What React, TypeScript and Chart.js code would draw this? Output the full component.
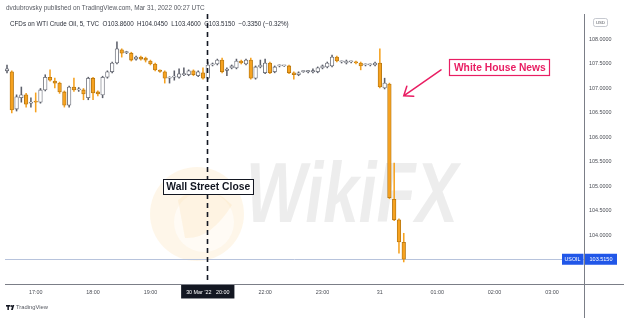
import React, { useEffect, useRef } from 'react';
import { Chart, registerables } from 'chart.js';

Chart.register(...registerables);

// 5-minute candles of WTI crude (index 0 = 30 Mar 16:30 UTC, index 54 = 22:00 after the break)
const opens = [
  107.36, 107.34, 106.58, 106.81, 106.87, 106.70, 106.74, 106.72, 106.97, 107.23,
  107.15, 107.11, 106.93, 106.66, 107.03, 106.97, 106.97, 106.81, 107.21, 106.93,
  106.87, 107.23, 107.34, 107.52, 107.79, 107.73, 107.72, 107.60, 107.64, 107.62,
  107.56, 107.50, 107.36, 107.34, 107.21, 107.23, 107.23, 107.28, 107.28, 107.36,
  107.26, 107.32, 107.21, 107.48, 107.50, 107.58, 107.37, 107.42, 107.42, 107.56,
  107.50, 107.58, 107.21, 107.44, 107.32, 107.52, 107.34, 107.46, 107.46, 107.46,
  107.32, 107.28, 107.34, 107.34, 107.34, 107.34, 107.42, 107.44, 107.46, 107.64,
  107.54, 107.52, 107.54, 107.54, 107.52, 107.48, 107.48, 107.48, 107.52, 107.01,
  107.09, 104.74, 104.32, 103.86,
];
const highs = [
  107.48, 107.36, 106.87, 107.03, 106.90, 106.81, 106.91, 107.00, 107.28, 107.38,
  107.21, 107.13, 106.95, 107.05, 107.21, 107.02, 107.00, 107.23, 107.23, 106.95,
  107.25, 107.36, 107.54, 107.95, 107.81, 107.76, 107.74, 107.66, 107.66, 107.64,
  107.58, 107.52, 107.38, 107.36, 107.24, 107.36, 107.40, 107.42, 107.38, 107.38,
  107.36, 107.42, 107.54, 107.52, 107.60, 107.62, 107.42, 107.48, 107.60, 107.58,
  107.60, 107.62, 107.46, 107.58, 107.60, 107.54, 107.46, 107.48, 107.47, 107.48,
  107.34, 107.34, 107.35, 107.36, 107.40, 107.44, 107.48, 107.54, 107.68, 107.66,
  107.56, 107.58, 107.56, 107.56, 107.54, 107.50, 107.50, 107.54, 107.81, 107.21,
  107.11, 105.48, 104.34, 104.045,
];
const lows = [
  107.32, 106.50, 106.54, 106.72, 106.62, 106.62, 106.52, 106.70, 106.95, 107.15,
  107.01, 106.90, 106.62, 106.62, 106.94, 106.94, 106.77, 106.77, 106.77, 106.85,
  106.81, 107.21, 107.32, 107.50, 107.64, 107.71, 107.56, 107.58, 107.58, 107.54,
  107.48, 107.36, 107.33, 107.11, 107.11, 107.17, 107.21, 107.26, 107.26, 107.26,
  107.24, 107.19, 107.19, 107.46, 107.48, 107.32, 107.26, 107.40, 107.40, 107.50,
  107.48, 107.19, 107.19, 107.42, 107.30, 107.30, 107.32, 107.44, 107.45, 107.30,
  107.19, 107.26, 107.33, 107.32, 107.32, 107.32, 107.40, 107.42, 107.44, 107.54,
  107.52, 107.50, 107.52, 107.50, 107.38, 107.46, 107.46, 107.46, 107.01, 106.99,
  104.75, 104.30, 103.64, 103.46,
];
const closes = [
  107.40, 106.56, 106.83, 106.87, 106.68, 106.72, 106.72, 106.97, 107.23, 107.17,
  107.11, 106.93, 106.66, 107.03, 106.97, 106.99, 106.89, 107.21, 106.91, 106.89,
  107.23, 107.34, 107.52, 107.81, 107.72, 107.74, 107.58, 107.64, 107.60, 107.58,
  107.50, 107.38, 107.35, 107.21, 107.22, 107.23, 107.30, 107.30, 107.36, 107.28,
  107.34, 107.21, 107.48, 107.50, 107.58, 107.34, 107.39, 107.46, 107.56, 107.52,
  107.58, 107.21, 107.44, 107.48, 107.52, 107.32, 107.44, 107.46, 107.46, 107.32,
  107.28, 107.32, 107.34, 107.34, 107.34, 107.42, 107.46, 107.52, 107.64, 107.56,
  107.54, 107.56, 107.54, 107.52, 107.46, 107.48, 107.48, 107.52, 107.03, 107.11,
  104.77, 104.32, 103.87, 103.515,
];

const timeTickIndex = [6, 18, 30, 42, 54, 66, 78, 90, 102, 114];
const timeTickLabels = ['17:00', '18:00', '19:00', "30 Mar '22   20:00", '22:00', '23:00', '31', '01:00', '02:00', '03:00'];
const priceTicks = [104.0, 104.5, 105.0, 105.5, 106.0, 106.5, 107.0, 107.5, 108.0];

const headerLine1 = 'dvdubrovsky published on TradingView.com, Mar 31, 2022 00:27 UTC';
const headerLine2 = 'CFDs on WTI Crude Oil, 5, TVC  O103.8600  H104.0450  L103.4600  C103.5150  \u22120.3350 (\u22120.32%)';
const symbolName = 'USOIL';
const wallStreet = { text: 'Wall Street Close', index: 42, price: 105.0 };
const news = { text: 'White House News', index: 103, price: 107.44 };
const arrow = { fromIndex: 90.8, fromPrice: 107.38, toIndex: 83, toPrice: 106.85 };

const X_MIN = -0.42;
const X_MAX = 120.71;
const Y_MIN = 103.01;
const Y_MAX = 108.52;

const DOWN_FILL = '#f6a220';
const DOWN_BORDER = '#b0720f';
const UP_FILL = '#ffffff';
const UP_BORDER = '#5d606b';
const AXIS = '#7b7e87';
const TEXT = '#4a4d55';
const FAMILY = '"Liberation Sans", Arial, sans-serif';
const PINK = '#e91e63';

function fitText(ctx: CanvasRenderingContext2D, text: string, x: number, y: number, width: number, weight: string, align: CanvasTextAlign = 'left') {
  ctx.font = `${weight} 20px ${FAMILY}`;
  const w = ctx.measureText(text).width;
  const size = (20 * width) / w;
  ctx.font = `${weight} ${size}px ${FAMILY}`;
  ctx.textAlign = align;
  ctx.textBaseline = 'middle';
  ctx.fillText(text, x, y);
}

const overlay = {
  id: 'overlay',
  beforeDraw(chart: any) {
    const ctx = chart.ctx as CanvasRenderingContext2D;
    ctx.save();
    ctx.fillStyle = '#ffffff';
    ctx.fillRect(0, 0, chart.width, chart.height);
    ctx.restore();
  },
  beforeDatasetsDraw(chart: any) {
    const ctx = chart.ctx as CanvasRenderingContext2D;
    const { chartArea } = chart;
    const y = chart.scales.y;
    ctx.save();
    // watermark logo
    ctx.fillStyle = 'rgba(246, 200, 120, 0.16)';
    ctx.beginPath();
    ctx.arc(197, 214, 47, 0, Math.PI * 2);
    ctx.fill();
    ctx.fillStyle = 'rgba(255, 255, 255, 0.55)';
    ctx.beginPath();
    ctx.arc(204, 222, 30, 0, Math.PI * 2);
    ctx.fill();
    ctx.fillStyle = 'rgba(246, 196, 110, 0.14)';
    ctx.beginPath();
    ctx.moveTo(178, 200);
    ctx.quadraticCurveTo(205, 178, 232, 205);
    ctx.quadraticCurveTo(210, 240, 185, 238);
    ctx.closePath();
    ctx.fill();
    // watermark text
    ctx.font = `bold italic 60px ${FAMILY}`;
    const w = ctx.measureText('WikiFX').width;
    ctx.translate(246, 222);
    ctx.scale(212 / w, 1.42);
    ctx.fillStyle = 'rgba(214, 214, 214, 0.45)';
    ctx.textAlign = 'left';
    ctx.textBaseline = 'alphabetic';
    ctx.fillText('WikiFX', 0, 0);
    ctx.restore();

    // last price line
    const py = Math.round(y.getPixelForValue(closes[closes.length - 1])) + 0.5;
    ctx.save();
    ctx.strokeStyle = '#b7c3dc';
    ctx.lineWidth = 1;
    ctx.beginPath();
    ctx.moveTo(chartArea.left, py);
    ctx.lineTo(chartArea.right, py);
    ctx.stroke();
    ctx.restore();
  },
  afterDraw(chart: any) {
    const ctx = chart.ctx as CanvasRenderingContext2D;
    const { chartArea } = chart;
    const xs = chart.scales.x;
    const ys = chart.scales.y;
    ctx.save();

    // axis line extensions
    ctx.strokeStyle = AXIS;
    ctx.lineWidth = 1;
    ctx.beginPath();
    ctx.moveTo(chartArea.right, chartArea.bottom + 0.5);
    ctx.lineTo(chart.width, chartArea.bottom + 0.5);
    ctx.moveTo(chartArea.right + 0.5, chartArea.bottom);
    ctx.lineTo(chartArea.right + 0.5, chart.height);
    ctx.stroke();

    // headers
    ctx.fillStyle = '#555860';
    fitText(ctx, headerLine1, 6, 8, 199, 'normal');
    ctx.fillStyle = '#2a2e39';
    fitText(ctx, headerLine2, 10, 24, 279, 'normal');

    // USD box
    ctx.strokeStyle = '#b8bbc4';
    ctx.lineWidth = 0.8;
    ctx.beginPath();
    ctx.roundRect(593.5, 18.5, 14, 8, 2);
    ctx.stroke();
    ctx.fillStyle = TEXT;
    fitText(ctx, 'USD', 600.5, 22.5, 9, 'normal', 'center');

    // Wall Street close dashed line
    const wx = Math.round(xs.getPixelForValue(wallStreet.index)) - 0.5;
    ctx.strokeStyle = '#131722';
    ctx.lineWidth = 1.6;
    ctx.setLineDash([5, 4]);
    ctx.beginPath();
    ctx.moveTo(wx, chartArea.top);
    ctx.lineTo(wx, chartArea.bottom);
    ctx.stroke();
    ctx.setLineDash([]);

    // Wall Street Close label
    const wcx = xs.getPixelForValue(wallStreet.index);
    const wcy = ys.getPixelForValue(wallStreet.price);
    ctx.fillStyle = '#ffffff';
    ctx.fillRect(wcx - 45, wcy - 7.5, 90, 15);
    ctx.strokeStyle = '#131722';
    ctx.lineWidth = 1;
    ctx.strokeRect(Math.round(wcx - 45) + 0.5, Math.round(wcy - 7.5) + 0.5, 90, 15);
    ctx.fillStyle = '#131722';
    fitText(ctx, wallStreet.text, wcx + 0.5, wcy + 1, 84, '600', 'center');

    // White House News label
    const ncx = xs.getPixelForValue(news.index);
    const ncy = ys.getPixelForValue(news.price);
    ctx.fillStyle = '#ffffff';
    ctx.fillRect(ncx - 50, ncy - 8, 100, 16);
    ctx.strokeStyle = PINK;
    ctx.lineWidth = 1.2;
    ctx.strokeRect(Math.round(ncx - 50) + 0.5, Math.round(ncy - 8) + 0.5, 100, 16);
    ctx.fillStyle = PINK;
    fitText(ctx, news.text, ncx + 0.5, ncy + 1, 92, '600', 'center');

    // arrow
    const ax0 = xs.getPixelForValue(arrow.fromIndex);
    const ay0 = ys.getPixelForValue(arrow.fromPrice);
    const ax1 = xs.getPixelForValue(arrow.toIndex);
    const ay1 = ys.getPixelForValue(arrow.toPrice);
    const ang = Math.atan2(ay1 - ay0, ax1 - ax0);
    ctx.strokeStyle = PINK;
    ctx.lineWidth = 1.5;
    ctx.lineCap = 'round';
    ctx.beginPath();
    ctx.moveTo(ax0, ay0);
    ctx.lineTo(ax1, ay1);
    const L = 10;
    ctx.moveTo(ax1 - L * Math.cos(ang - 0.65), ay1 - L * Math.sin(ang - 0.65));
    ctx.lineTo(ax1, ay1);
    ctx.lineTo(ax1 - L * Math.cos(ang + 0.65), ay1 - L * Math.sin(ang + 0.65));
    ctx.stroke();

    // symbol / last price labels
    const ly = ys.getPixelForValue(closes[closes.length - 1]);
    ctx.fillStyle = '#2157e8';
    ctx.fillRect(562, ly - 5.5, 21.5, 11);
    ctx.fillRect(585, ly - 5.5, 32, 11);
    ctx.fillStyle = '#ffffff';
    fitText(ctx, symbolName, 572.5, ly + 0.5, 16, 'normal', 'center');
    fitText(ctx, closes[closes.length - 1].toFixed(4), 601, ly + 0.5, 23, 'normal', 'center');

    // TradingView footer
    ctx.fillStyle = '#131722';
    ctx.fillRect(6, 305, 4, 1.6);
    ctx.fillRect(7.4, 305, 1.5, 5);
    ctx.beginPath();
    ctx.arc(11.2, 306, 0.9, 0, Math.PI * 2);
    ctx.fill();
    ctx.beginPath();
    ctx.moveTo(12.5, 305);
    ctx.lineTo(14.3, 305);
    ctx.lineTo(12.8, 310);
    ctx.lineTo(11, 310);
    ctx.closePath();
    ctx.fill();
    ctx.fillStyle = '#555860';
    fitText(ctx, 'TradingView', 16, 307.8, 32, 'normal');
    ctx.restore();
  },
};

export default function App() {
  const ref = useRef<HTMLCanvasElement>(null);
  useEffect(() => {
    const canvas = ref.current;
    if (!canvas) return;
    const isDown = opens.map((o, i) => closes[i] < o);
    const bodyData = opens.map((o, i) => ({ x: i, y: [Math.min(o, closes[i]), Math.max(o, closes[i])] }));
    const wickData = opens.map((o, i) => ({ x: i, y: [lows[i], highs[i]] }));
    const chart = new Chart(canvas, {
      type: 'bar',
      data: {
        datasets: [
          {
            data: bodyData as any,
            backgroundColor: isDown.map((d) => (d ? DOWN_FILL : UP_FILL)),
            borderColor: isDown.map((d) => (d ? DOWN_BORDER : UP_BORDER)),
            borderWidth: 0.8,
            borderSkipped: false,
            barThickness: 3.6,
            minBarLength: 1.2,
            grouped: false,
            order: 0,
          } as any,
          {
            data: wickData as any,
            backgroundColor: isDown.map((d) => (d ? DOWN_FILL : UP_BORDER)),
            borderWidth: 0,
            barThickness: 0.9,
            grouped: false,
            order: 1,
          } as any,
        ],
      },
      options: {
        responsive: false,
        animation: false,
        layout: { padding: { left: 5, top: 14, right: 0, bottom: 0 } },
        plugins: { legend: { display: false }, tooltip: { enabled: false } },
        scales: {
          x: {
            type: 'linear',
            min: X_MIN,
            max: X_MAX,
            offset: false,
            grid: { display: false, drawTicks: false },
            border: { display: true, color: AXIS },
            afterBuildTicks: (s: any) => {
              s.ticks = timeTickIndex.map((v) => ({ value: v }));
            },
            afterFit: (s: any) => {
              s.height = 34;
            },
            ticks: {
              autoSkip: false,
              maxRotation: 0,
              padding: 5,
              font: { family: FAMILY, size: 5.4 },
              color: (c: any) => (c.index === 3 ? '#ffffff' : TEXT),
              showLabelBackdrop: (c: any) => c.index === 3,
              backdropColor: '#131722',
              backdropPadding: { left: 5, right: 5, top: 4, bottom: 3 },
              callback: (v: any) => {
                const k = timeTickIndex.indexOf(Number(v));
                return k >= 0 ? timeTickLabels[k] : '';
              },
            } as any,
          },
          y: {
            position: 'right',
            min: Y_MIN,
            max: Y_MAX,
            grid: { display: false, drawTicks: false },
            border: { display: true, color: AXIS },
            afterBuildTicks: (s: any) => {
              s.ticks = priceTicks.map((v) => ({ value: v }));
            },
            afterFit: (s: any) => {
              s.width = 40;
            },
            ticks: {
              padding: 5,
              font: { family: FAMILY, size: 5.4 },
              color: TEXT,
              callback: (v: any) => Number(v).toFixed(4),
            },
          },
        },
      },
      plugins: [overlay as any],
    });
    return () => chart.destroy();
  }, []);
  return (
    <canvas
      ref={ref}
      width={624}
      height={318}
      style={{ position: 'absolute', left: 0, top: 0, width: 624, height: 318 }}
    />
  );
}
